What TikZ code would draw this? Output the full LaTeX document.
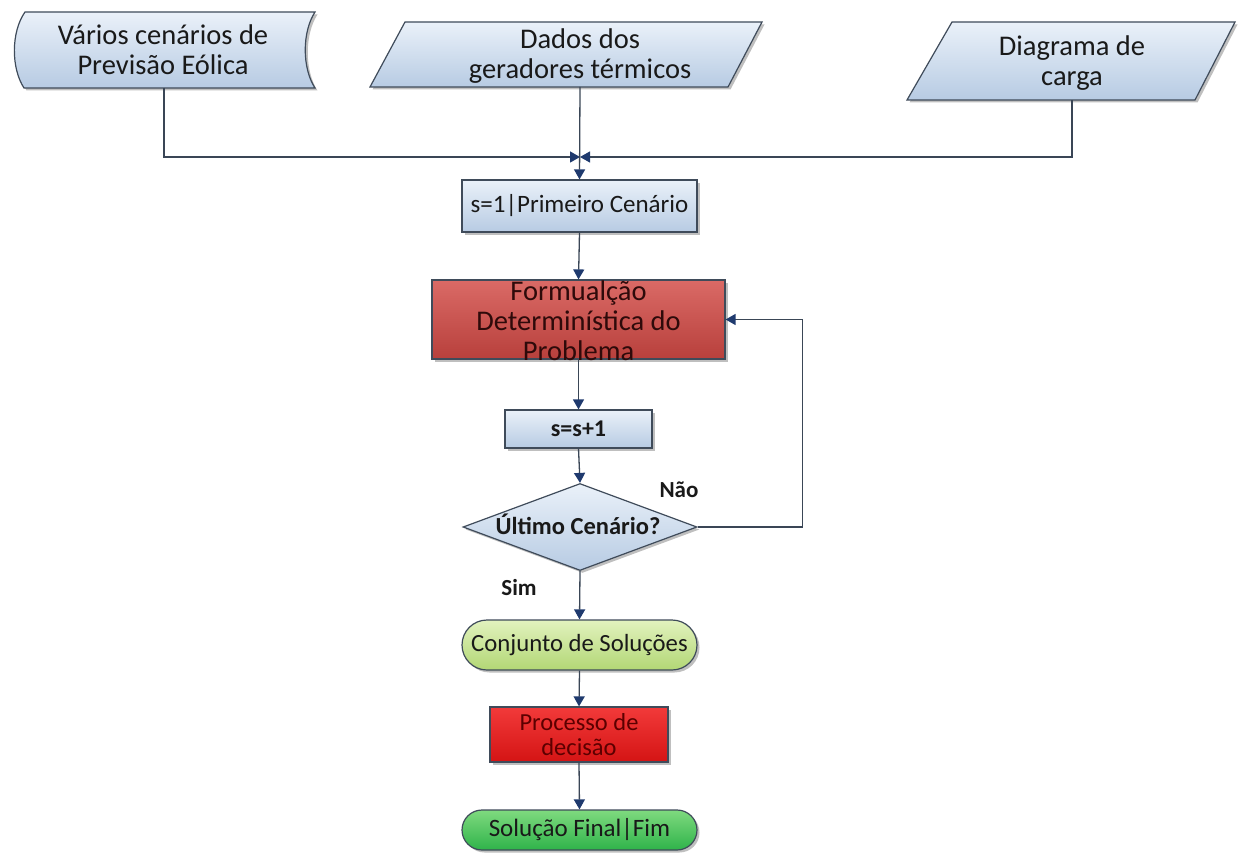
\documentclass[tikz,border=0pt]{standalone}
\usepackage{fontspec}
\setmainfont{Carlito}
\usetikzlibrary{arrows.meta,shapes.geometric,shadows}
\definecolor{bluetop}{HTML}{EAF1F9}
\definecolor{bluebot}{HTML}{B7CBE3}
\definecolor{edge}{HTML}{3F4B5A}
\definecolor{linec}{HTML}{3A4656}
\definecolor{tipc}{HTML}{1F3A6E}
\definecolor{redtop}{HTML}{DA6A66}
\definecolor{redbot}{HTML}{B8403C}
\definecolor{rtxt}{HTML}{2E0A0A}
\definecolor{lgtop}{HTML}{E2F2BE}
\definecolor{lgbot}{HTML}{B2D775}
\definecolor{prtop}{HTML}{F23A3A}
\definecolor{prbot}{HTML}{D41414}
\definecolor{prtxt}{HTML}{5C0000}
\definecolor{gtop}{HTML}{7FDA7F}
\definecolor{gbot}{HTML}{2FB34A}
\tikzset{
  shd/.style={drop shadow={shadow xshift=2.5pt,shadow yshift=-2.5pt,opacity=0.25,fill=black}},
  bluefill/.style={draw=edge,line width=1.2pt,top color=bluetop,bottom color=bluebot,shd},
  anchorbox/.style={inner sep=0pt,outer sep=0pt},
  txt/.style={font=\fontsize{28.5}{30}\selectfont,align=center,text=black!90,inner sep=0pt},
  conn/.style={draw=linec,line width=1.3pt},
  arr/.style={conn,-{Triangle[length=10pt,width=11pt,color=tipc]}},
  boxstep/.style={draw=edge,line width=1.2pt,inner sep=0pt,shd},
}
\begin{document}
\begin{tikzpicture}[x=1pt,y=-1pt]
\useasboundingbox[fill=white] (0,0) rectangle (1238,861);

% ---- top inputs ----
\path[bluefill] (25,12) -- (315,12) .. controls (302,32) and (302,68) .. (315,88)
  -- (24,88) .. controls (11,68) and (11,32) .. (25,12) -- cycle;
\node[anchorbox,minimum width=300pt,minimum height=76pt] (eol) at (164,50) {};
\node[txt] (eolt) at (163,50) {Vários cenários de\\Previsão Eólica};

\path[bluefill] (405,22) -- (762,22) -- (728,87) -- (370,87) -- cycle;
\node[anchorbox,minimum width=392pt,minimum height=65pt] (ger) at (566,54.5) {};
\node[txt] (gert) at (580,56) {Dados dos\\geradores térmicos};

\path[bluefill] (952,22) -- (1235,22) -- (1195,100) -- (907,100) -- cycle;
\node[anchorbox,minimum width=328pt,minimum height=78pt] (car) at (1072,61) {};
\node[txt] (cart) at (1072,63) {Diagrama de\\carga};

\coordinate (j) at (580,157);

% ---- process chain ----
\node[boxstep,top color=bluetop,bottom color=bluebot,minimum width=235pt,minimum height=52pt,
  font=\fontsize{25}{28}\selectfont,text=black!90] (s1) at (579.5,206) {s=1|Primeiro Cenário};

\node[boxstep,top color=redtop,bottom color=redbot,minimum width=293pt,minimum height=79pt] (form) at (578.5,319.5) {};
\node[txt,text=rtxt] (formt) at (578.5,321) {Formualção\\Determinística do\\Problema};

\node[boxstep,top color=bluetop,bottom color=bluebot,minimum width=147pt,minimum height=38pt,
  font=\bfseries\fontsize{24}{28}\selectfont,text=black!90] (inc) at (578.5,429) {s=s+1};

\node[boxstep,diamond,aspect=2.69,top color=bluetop,bottom color=bluebot,minimum width=234pt,minimum height=87pt] (dec) at (580,527) {};
\node[inner sep=0pt,font=\bfseries\fontsize{24.5}{28}\selectfont,text=black!90] (dect) at (578,524) {Último Cenário?};

\node[boxstep,rounded corners=25pt,top color=lgtop,bottom color=lgbot,minimum width=235pt,minimum height=50pt,
  font=\fontsize{24.7}{28}\selectfont,text=black!90] (conj) at (579.5,645) {Conjunto de Soluções};

\node[boxstep,top color=prtop,bottom color=prbot,minimum width=178pt,minimum height=55pt,
  font=\fontsize{24.5}{25.5}\selectfont,text=prtxt,align=center] (proc) at (579,734.5) {Processo de\\decisão};

\node[boxstep,rounded corners=20pt,top color=gtop,bottom color=gbot,minimum width=235pt,minimum height=40pt,
  font=\fontsize{25}{28}\selectfont,text=black!90] (fim) at (579.5,830) {Solução Final|Fim};

% ---- labels ----
\node[font=\bfseries\fontsize{23}{26}\selectfont,text=black!90,inner sep=0pt] (nao) at (679,490) {Não};
\node[font=\bfseries\fontsize{23}{26}\selectfont,text=black!90,inner sep=0pt] (sim) at (519,588) {Sim};

% ---- connectors ----
\draw[arr] (eol.south) |- (j);
\draw[arr] (car.south) |- (j);
\draw[arr] (ger.south -| j) -- (s1.north);
\draw[arr] (s1.south) -- (form.north);
\draw[arr] (form.south) -- (inc.north);
\draw[arr] (inc.south) -- (dec.north);
\draw[arr] (dec.east) -- ++(105,0) |- (form.east);
\draw[arr] (dec.south) -- (conj.north);
\draw[arr] (conj.south) -- (proc.north);
\draw[arr] (proc.south) -- (fim.north);
\end{tikzpicture}
\end{document}
